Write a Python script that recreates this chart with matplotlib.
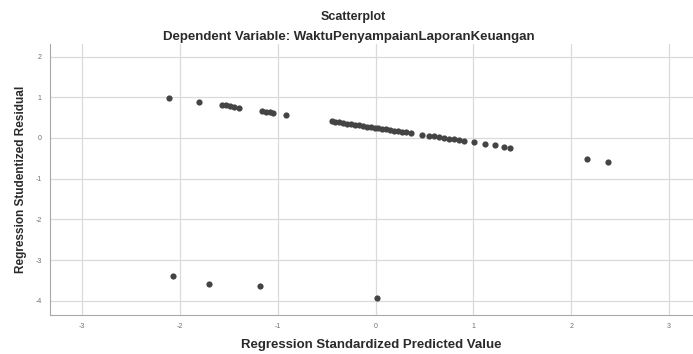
import matplotlib
matplotlib.use("Agg")
import matplotlib.pyplot as plt

# predicted (x) and studentized residual (y) values
pred = [-2.11, -1.80, -1.57, -1.53, -1.49, -1.45, -1.40, -1.16, -1.12, -1.08, -1.05, -0.92,
        -0.45, -0.41, -0.37, -0.33, -0.29, -0.25, -0.21, -0.17, -0.13, -0.09, -0.05, -0.01,
        0.03, 0.07, 0.11, 0.15, 0.19, 0.23, 0.27, 0.31, 0.36, 0.47,
        0.55, 0.60, 0.65, 0.70, 0.75, 0.80, 0.85, 0.90, 1.01, 1.12, 1.22, 1.31, 1.37,
        2.16, 2.38,
        -2.07, -1.70, -1.18, 0.02]
resid = [0.99, 0.89, 0.81, 0.80, 0.78, 0.76, 0.74, 0.66, 0.64, 0.63, 0.61, 0.57,
         0.41, 0.40, 0.38, 0.37, 0.35, 0.34, 0.32, 0.31, 0.30, 0.28, 0.27, 0.25,
         0.24, 0.23, 0.21, 0.20, 0.18, 0.17, 0.15, 0.14, 0.12, 0.08,
         0.05, 0.04, 0.02, 0.00, -0.02, -0.03, -0.05, -0.07, -0.11, -0.15, -0.18, -0.22, -0.24,
         -0.52, -0.60,
         -3.38, -3.59, -3.64, -3.92]
xticks = [-3, -2, -1, 0, 1, 2, 3]
yticks = [2, 1, 0, -1, -2, -3, -4]

plt.rcParams["font.family"] = ["Liberation Sans", "DejaVu Sans"]
plt.rcParams["axes.unicode_minus"] = False
fig = plt.figure(figsize=(6.93, 3.54), dpi=100)
ax = fig.add_axes([0.0722, 0.110, 0.9278, 0.766])

ax.scatter(pred, resid, s=20, color="#444444", zorder=3, linewidths=0)
ax.set_xlim(-3.327, 3.245)
ax.set_ylim(-4.35, 2.31)
ax.set_xticks(xticks)
ax.set_yticks(yticks)
ax.grid(True, color="#dadada", lw=0.9)
ax.set_axisbelow(True)
for s in ["top", "right"]:
    ax.spines[s].set_visible(False)
for s in ["left", "bottom"]:
    ax.spines[s].set_color("#a8a8a8")
ax.tick_params(length=0, labelsize=5, labelcolor="#707070", pad=6)

ax.set_xlabel("Regression Standardized Predicted Value", fontsize=9.5, fontweight="bold",
              color="#2a2a2a", labelpad=6)
ax.set_ylabel("Regression Studentized Residual", fontsize=8.5, fontweight="bold",
              color="#2a2a2a", labelpad=6)
fig.text(0.51, 0.952, "Scatterplot", ha="center", va="center", fontsize=9,
         fontweight="bold", color="#2a2a2a")
fig.text(0.504, 0.895, "Dependent Variable: WaktuPenyampaianLaporanKeuangan", ha="center",
         va="center", fontsize=9.5, fontweight="bold", color="#2a2a2a")

plt.savefig("out.png", dpi=100)
